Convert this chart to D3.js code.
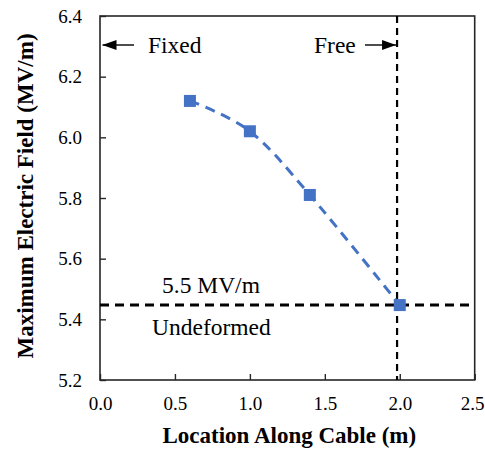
<!DOCTYPE html>
<html>
<head>
<meta charset="utf-8">
<script src="https://cdn.jsdelivr.net/npm/d3@7"></script>
<style>
  html, body { margin: 0; padding: 0; background: #fff; }
  svg { display: block; font-family: "Liberation Serif", "Times New Roman", serif; }
</style>
</head>
<body>
<svg id="chart" width="485" height="449"></svg>
<script>
// ---- data ----
const locations = [0.6, 1.0, 1.4, 2.0];
const maxField = [6.12, 6.02, 5.81, 5.447];
const xTicks = [0.0, 0.5, 1.0, 1.5, 2.0, 2.5];
const yTicks = [5.2, 5.4, 5.6, 5.8, 6.0, 6.2, 6.4];
const undeformedField = [5.447];
const freeEndLocation = [1.982];
const xTitle = "Location Along Cable (m)";
const yTitle = "Maximum Electric Field (MV/m)";
const labels = ["Fixed", "Free", "5.5 MV/m", "Undeformed"];

// ---- layout ----
const svg = d3.select("#chart");
const L = 100, R = 474.7, T = 16, B = 380;
const x = d3.scaleLinear().domain([0, 2.5]).range([L, R]);
const y = d3.scaleLinear().domain([5.2, 6.4]).range([B, T]);
const axisColor = "#262626";
const serif = "'Liberation Serif', 'Times New Roman', serif";

// axes (inside ticks)
const xAxis = svg.append("g").attr("transform", `translate(0,${B})`)
  .call(d3.axisBottom(x).tickValues(xTicks).tickSizeInner(-6).tickSizeOuter(0)
    .tickFormat(d3.format(".1f")));
const yAxis = svg.append("g").attr("transform", `translate(${L},0)`)
  .call(d3.axisLeft(y).tickValues(yTicks).tickSizeInner(-6).tickSizeOuter(0)
    .tickFormat(d3.format(".1f")));
[xAxis, yAxis].forEach(g => {
  g.attr("font-family", serif).attr("font-size", 19);
  g.select(".domain").remove();
  g.selectAll(".tick line").attr("stroke", axisColor).attr("stroke-width", 1.4);
  g.selectAll(".tick text").attr("fill", "#000");
});
xAxis.selectAll(".tick text").attr("y", 0).attr("dy", null)
  .attr("transform", (d, i) => `translate(${i === xTicks.length - 1 ? -2.5 : 0},30)`);
yAxis.selectAll(".tick text").attr("x", -18).attr("dy", "0.33em");

// frame
svg.append("rect").attr("x", L).attr("y", T).attr("width", R - L).attr("height", B - T)
  .attr("fill", "none").attr("stroke", axisColor).attr("stroke-width", 1.6);

// reference lines
svg.append("line")
  .attr("x1", x(0)).attr("x2", x(2.5))
  .attr("y1", y(undeformedField[0])).attr("y2", y(undeformedField[0]))
  .attr("stroke", "#000").attr("stroke-width", 3).attr("stroke-dasharray", "9,6");
svg.append("line")
  .attr("x1", x(freeEndLocation[0])).attr("x2", x(freeEndLocation[0]))
  .attr("y1", y(6.4)).attr("y2", y(5.2))
  .attr("stroke", "#000").attr("stroke-width", 2.2).attr("stroke-dasharray", "7,5");

// series
const pts = locations.map((d, i) => [d, maxField[i]]);
const line = d3.line().x(d => x(d[0])).y(d => y(d[1])).curve(d3.curveCardinal.tension(0));
svg.append("path").datum(pts).attr("d", line)
  .attr("fill", "none").attr("stroke", "#4472C4").attr("stroke-width", 3)
  .attr("stroke-dasharray", "10,7");
const ms = 12;
svg.selectAll("rect.mk").data(pts).enter().append("rect").attr("class", "mk")
  .attr("x", d => x(d[0]) - ms / 2).attr("y", d => y(d[1]) - ms / 2)
  .attr("width", ms).attr("height", ms).attr("fill", "#4472C4");

// arrows
const defs = svg.append("defs");
defs.append("marker").attr("id", "ah").attr("viewBox", "0 0 14 10")
  .attr("refX", 14).attr("refY", 5).attr("markerWidth", 14).attr("markerHeight", 10)
  .attr("markerUnits", "userSpaceOnUse").attr("orient", "auto")
  .append("path").attr("d", "M0,0 L14,5 L0,10 Z").attr("fill", "#000");
const arrowY = 45;
svg.append("line").attr("x1", 134).attr("x2", x(0) + 2.5).attr("y1", arrowY).attr("y2", arrowY)
  .attr("stroke", "#000").attr("stroke-width", 1.4).attr("marker-end", "url(#ah)");
svg.append("line").attr("x1", 365).attr("x2", x(freeEndLocation[0]) - 1).attr("y1", arrowY).attr("y2", arrowY)
  .attr("stroke", "#000").attr("stroke-width", 1.4).attr("marker-end", "url(#ah)");

// annotation text
const ann = (t, xx, yy) => svg.append("text").attr("x", xx).attr("y", yy)
  .attr("fill", "#000").attr("font-family", serif).attr("font-size", 23.5).text(t);
ann(labels[0], 148, 53);
ann(labels[1], 314, 53);
ann(labels[2], 162, y(undeformedField[0]) - 12);
ann(labels[3], 152, y(undeformedField[0]) + 30);

// titles
svg.append("text").attr("x", (L + R) / 2 + 2).attr("y", 443)
  .attr("text-anchor", "middle").attr("fill", "#000").attr("font-family", serif)
  .attr("font-size", 23).attr("font-weight", "bold").text(xTitle);
svg.append("text").attr("transform", `translate(33,${(T + B) / 2 - 2}) rotate(-90)`)
  .attr("text-anchor", "middle").attr("fill", "#000").attr("font-family", serif)
  .attr("font-size", 23).attr("font-weight", "bold").text(yTitle);
</script>
</body>
</html>
